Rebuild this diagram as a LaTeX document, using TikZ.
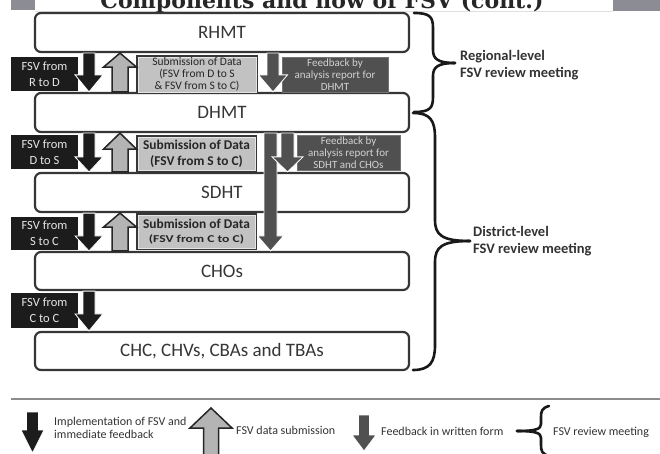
\documentclass[tikz,border=0pt]{standalone}
\usepackage{fontspec}
\setmainfont{Carlito}
\newfontfamily\titlefont{DejaVu Serif}
\usetikzlibrary{calc}

\definecolor{ink}{HTML}{363636}
\definecolor{nearblack}{HTML}{1C1C1C}
\definecolor{subfill}{HTML}{C2C2C2}
\definecolor{fbfill}{HTML}{505050}
\definecolor{upfill}{HTML}{B4B4B4}
\definecolor{barfill}{HTML}{8C8D94}
\definecolor{paletext}{HTML}{E6E6E6}
\definecolor{fbtext}{HTML}{D2D2D2}

% Vertical block arrow: #1 style, #2 x of the axis, #3 start point, #4 tip point,
% #5 half shaft width, #6 half head width, #7 head length
\newcommand\blockarrow[7]{%
  \path[#1] let \p1=(#3), \p2=(#4), \n1={\y2-(#7)*sign(\y2-\y1)} in
    ({(#2-#5)*1pt},\y1) -- ({(#2-#5)*1pt},{\n1*1pt}) -- ({(#2-#6)*1pt},{\n1*1pt})
    -- ({#2*1pt},\y2) -- ({(#2+#6)*1pt},{\n1*1pt}) -- ({(#2+#5)*1pt},{\n1*1pt})
    -- ({(#2+#5)*1pt},\y1) -- cycle;}

\begin{document}
\begin{tikzpicture}[x=1pt,y=-1pt,
  mainbox/.style={draw=ink, line width=2.2pt, rounded corners=6pt, fill=white,
    minimum width=374pt, minimum height=39pt, inner sep=0pt,
    font=\fontsize{19}{22}\selectfont, text=ink},
  fsvbox/.style={fill=nearblack, minimum width=67pt, minimum height=34pt, inner sep=0pt,
    align=center, text=paletext, font=\fontsize{12.5}{16}\selectfont},
  subbox/.style={fill=subfill, draw=white!90!black, line width=0.8pt,
    preaction={draw=ink, line width=3.4pt}, minimum width=117pt, inner sep=0pt,
    align=center, text=black!85},
  fbbox/.style={fill=fbfill, draw=black!55, line width=0.6pt, inner sep=0pt,
    align=center, text=fbtext, font=\fontsize{11}{12}\selectfont},
  implarrow/.style={fill=nearblack, draw=white, line width=0.8pt},
  subarrow/.style={fill=upfill, draw=black!85, line width=1.5pt},
  fbarrow/.style={fill=fbfill, draw=white, line width=0.8pt},
  curly/.style={draw=black!90, line width=2.6pt, line cap=round},
  bracelabel/.style={anchor=west, align=left, inner sep=0pt, text=black!80,
    font=\bfseries\fontsize{14.5}{17}\selectfont},
  legendtext/.style={anchor=west, align=left, inner sep=0pt, text=black!80,
    font=\fontsize{12}{13.5}\selectfont}]

\clip (0,0) rectangle (660,454);
\fill[white] (0,0) rectangle (660,454);

% heading strip
\fill[barfill] (11,0) rectangle (35,10);
\fill[barfill] (613,0) rectangle (660,11);
\draw[black!12, line width=0.8pt] (35,11.5) -- (613,11.5);
\node[anchor=base, inner sep=0pt, text=black!85,
  font=\titlefont\bfseries\fontsize{22}{22}\selectfont]
  (title) at (322,8.5) {Components and flow of FSV (cont.)};

% separator above the key
\draw[black!45, line width=2pt] (11,398.5) -- (660,398.5);

% levels
\node[mainbox] (rhmt) at (222,32.5) {RHMT};
\node[mainbox] (dhmt) at (222,112.5) {DHMT};
\node[mainbox] (sdht) at (222,192.5) {SDHT};
\node[mainbox, minimum height=38pt] (chos) at (222,271) {CHOs};
\node[mainbox, minimum height=38pt] (chc) at (222,351) {CHC, CHVs, CBAs and TBAs};

% implementation labels
\node[fsvbox] (fsvRD) at (44.5,74) {FSV from\\R to D};
\node[fsvbox] (fsvDS) at (44.5,152.5) {FSV from\\D to S};
\node[fsvbox, minimum height=33pt] (fsvSC) at (44.5,233.5) {FSV from\\S to C};
\node[fsvbox, minimum height=35pt] (fsvCC) at (44.5,310.5) {FSV from\\C to C};

% data submission labels
\node[subbox, minimum width=118pt, minimum height=35pt, font=\fontsize{11.5}{12}\selectfont]
  (sub1) at (197,74.5) {Submission of Data\\(FSV from D to S\\\& FSV from S to C)};
\node[subbox, minimum height=33pt, font=\bfseries\fontsize{13.4}{16}\selectfont]
  (sub2) at (196.5,153.5) {Submission of Data\\(FSV from S to C)};
\node[subbox, minimum height=33pt, font=\bfseries\fontsize{13.4}{14}\selectfont]
  (sub3) at (196.5,231.5) {Submission of Data\\{\fontsize{10.5}{12}\selectfont\scalebox{1.3}[1]{(FSV from C to C)}}};

% written feedback labels
\node[fbbox, minimum width=106pt, minimum height=35pt] (fb1) at (335,74.5)
  {Feedback by\\analysis report for\\DHMT};
\node[fbbox, minimum width=103pt, minimum height=35pt] (fb2) at (348.5,152.5)
  {Feedback by\\analysis report for\\SDHT and CHOs};

% flows between levels
\blockarrow{implarrow}{89}{rhmt.south}{dhmt.north}{6}{14}{17}
\blockarrow{subarrow}{120}{dhmt.north}{rhmt.south}{8}{16.5}{14}
\blockarrow{fbarrow}{273}{rhmt.south}{dhmt.north}{6}{14.5}{17}

\blockarrow{implarrow}{89}{dhmt.south}{sdht.north}{6}{14}{15}
\blockarrow{subarrow}{120}{sdht.north}{dhmt.south}{8}{16.5}{16}
\blockarrow{fbarrow}{270.5}{dhmt.south}{chos.north}{6.5}{13}{15}
\blockarrow{fbarrow}{287.5}{dhmt.south}{sdht.north}{6.5}{15.5}{15}

\blockarrow{implarrow}{89}{sdht.south}{chos.north}{6}{14}{15}
\blockarrow{subarrow}{120}{chos.north}{sdht.south}{8}{16.5}{14}

\blockarrow{implarrow}{89}{chos.south}{chc.north}{6}{14}{17}

% review meetings
\draw[curly] (414,13) .. controls (430,13) and (433,17) .. (433,28) -- (433,50)
  .. controls (433,59) and (438,63) .. (455,63);
\draw[curly] (414,112) .. controls (430,112) and (433,108) .. (433,97) -- (433,76)
  .. controls (433,67) and (438,63) .. (455,63);
\node[bracelabel] (regional) at (460,65.5) {Regional-level\\FSV review meeting};

\draw[curly] (413,113) .. controls (430,113) and (435,120) .. (435,138) -- (435,220)
  .. controls (435,235) and (442,241) .. (470,241);
\draw[curly] (413,370) .. controls (430,370) and (435,362) .. (435,345) -- (435,262)
  .. controls (435,247) and (442,241) .. (470,241);
\node[bracelabel] (district) at (473,241.5) {District-level\\FSV review meeting};

% key
\coordinate (keyImplTop) at (32.5,412);
\coordinate (keyImplTip) at (32.5,453);
\blockarrow{implarrow}{32.5}{keyImplTop}{keyImplTip}{6}{11.5}{23}
\node[legendtext] (keyImpl) at (54,428) {Implementation of FSV and\\immediate feedback};

\coordinate (keySubBase) at (211,457);
\coordinate (keySubTip) at (211,408);
\blockarrow{subarrow}{211}{keySubBase}{keySubTip}{7.5}{21}{20}
\node[legendtext] (keySub) at (236,430) {FSV data submission};

\coordinate (keyFbTop) at (364,415);
\coordinate (keyFbTip) at (364,451);
\blockarrow{fbarrow}{364}{keyFbTop}{keyFbTip}{5.5}{12}{16}
\node[legendtext] (keyFb) at (381,431) {Feedback in written form};

\draw[curly] (549,406) .. controls (542,408) and (541,411) .. (541,417) -- (541,424)
  .. controls (541,429) and (536,431) .. (517,431);
\draw[curly] (549,456) .. controls (542,454) and (541,451) .. (541,445) -- (541,438)
  .. controls (541,433) and (536,431) .. (517,431);
\node[legendtext] (keyMeet) at (553,432) {FSV review meeting};
\end{tikzpicture}
\end{document}
